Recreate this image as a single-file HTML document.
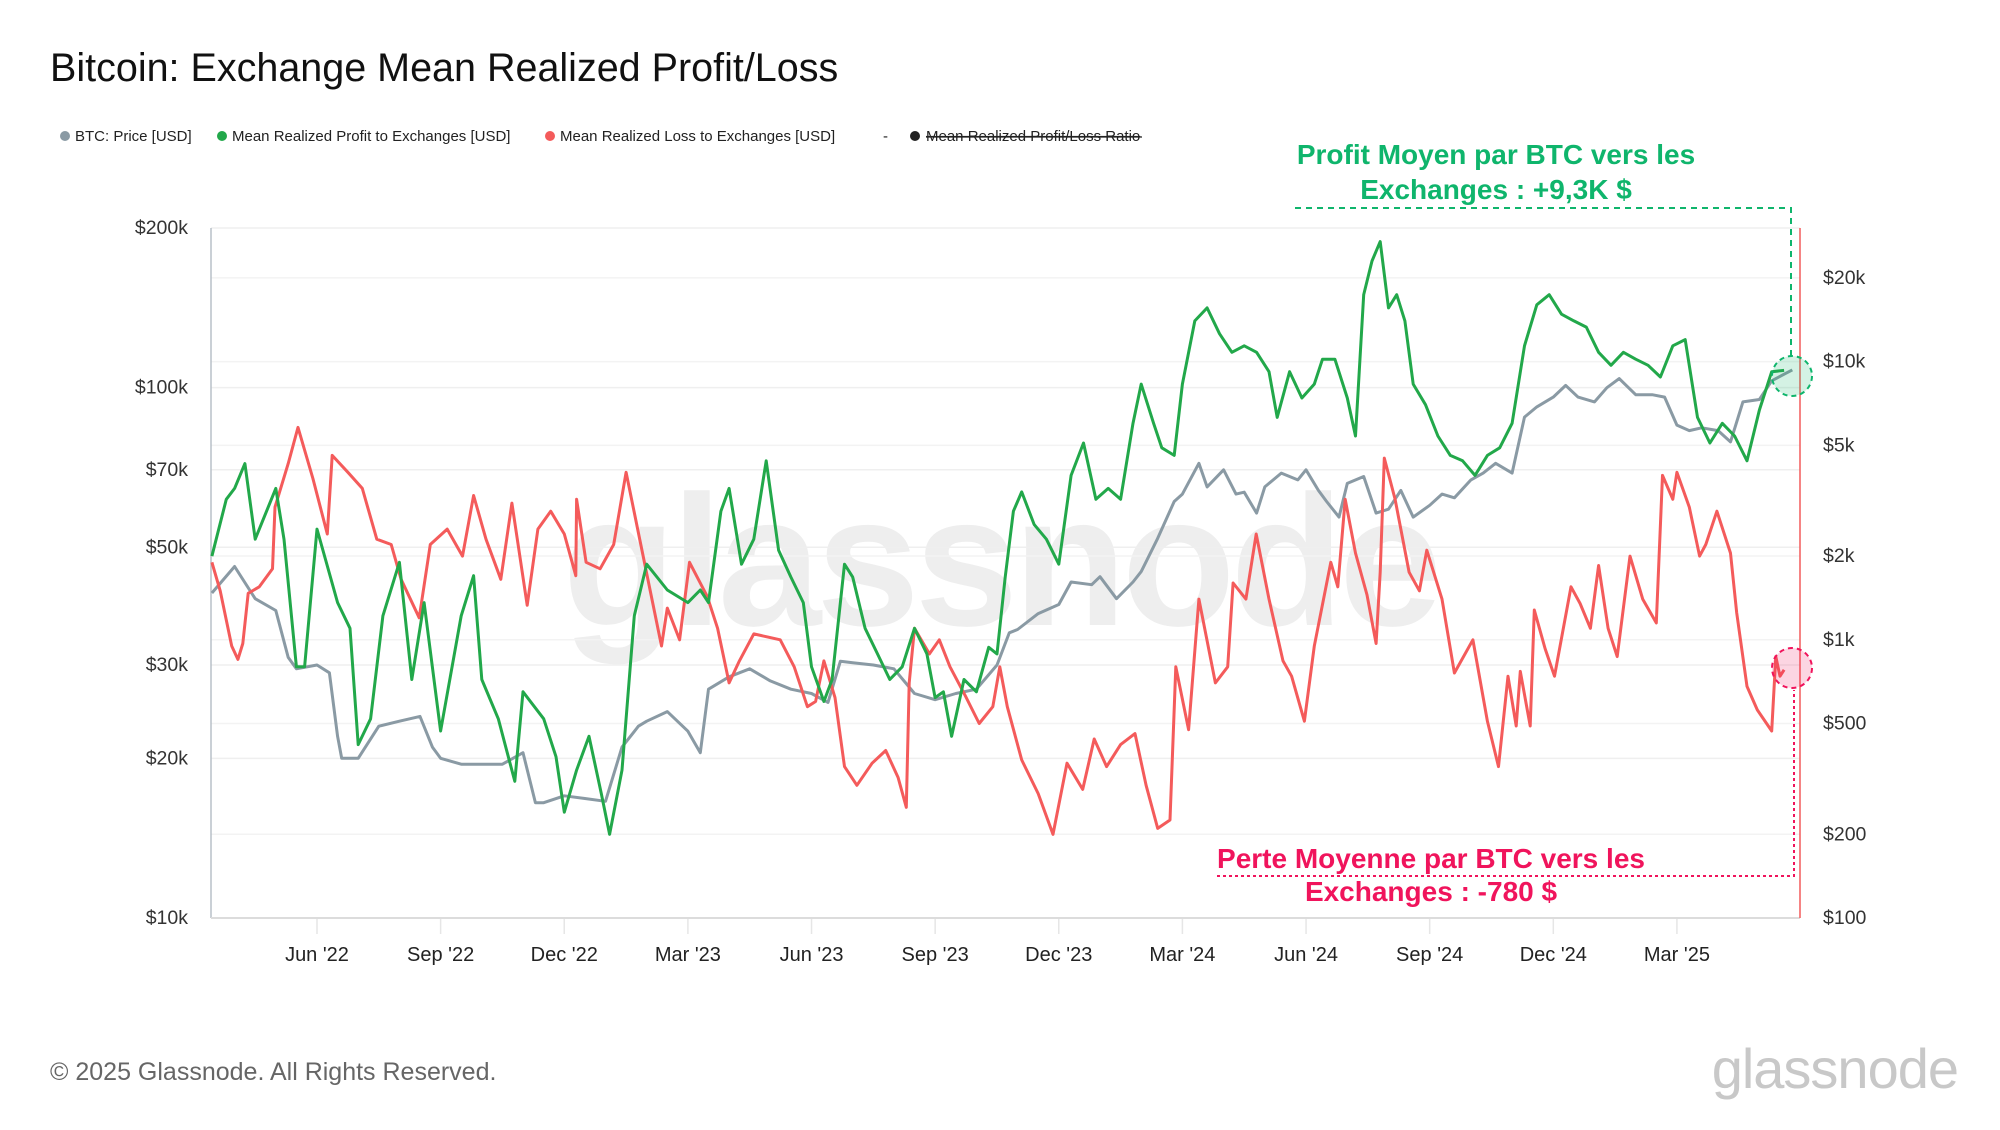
<!DOCTYPE html>
<html><head><meta charset="utf-8">
<style>
html,body{margin:0;padding:0;background:#fff;}
body{width:2000px;height:1125px;overflow:hidden;font-family:"Liberation Sans",sans-serif;}
svg text{font-family:"Liberation Sans",sans-serif;}
</style></head>
<body>
<svg id="chart" width="2000" height="1125" viewBox="0 0 2000 1125" xmlns="http://www.w3.org/2000/svg">
  <text x="50" y="81" font-size="39.5" fill="#111">Bitcoin: Exchange Mean Realized Profit/Loss</text>
  <g font-size="15" fill="#222">
    <g><circle cx="65" cy="136" r="5" fill="#8a9aa4"/><text x="75" y="141">BTC: Price [USD]</text></g>
    <g><circle cx="222" cy="136" r="5" fill="#22a84a"/><text x="232" y="141">Mean Realized Profit to Exchanges [USD]</text></g>
    <g><circle cx="550" cy="136" r="5" fill="#f45b5b"/><text x="560" y="141">Mean Realized Loss to Exchanges [USD]</text></g>
    <g><text x="883" y="141">-</text><circle cx="915" cy="136" r="5" fill="#222"/><text x="926" y="141" text-decoration="line-through">Mean Realized Profit/Loss Ratio</text><line x1="926" y1="137" x2="1142" y2="137" stroke="#222" stroke-width="1.2"/></g>
  </g>
  <text x="1000" y="625" font-size="186" fill="#eeeeee" text-anchor="middle" font-weight="bold" letter-spacing="-5">glassnode</text>
  <g id="grid"></g>
  <g id="axes"></g>
  <g id="series"></g>
  <g>
    <text x="1496" y="164" font-size="28" font-weight="bold" fill="#0fb56c" text-anchor="middle">Profit Moyen par BTC vers les</text>
    <text x="1496" y="199" font-size="28" font-weight="bold" fill="#0fb56c" text-anchor="middle">Exchanges : +9,3K $</text>
    <polyline points="1295,208 1791,208 1791,358" fill="none" stroke="#0fb56c" stroke-width="2" stroke-dasharray="6,5"/>
    <circle cx="1792" cy="376" r="20" fill="rgba(15,181,108,0.18)" stroke="#0fb56c" stroke-width="2" stroke-dasharray="5,4"/>
  </g>
  <g>
    <text x="1431" y="868" font-size="28" font-weight="bold" fill="#f0145c" text-anchor="middle">Perte Moyenne par BTC vers les</text>
    <text x="1431" y="901" font-size="28" font-weight="bold" fill="#f0145c" text-anchor="middle">Exchanges : -780 $</text>
    <polyline points="1217,876 1794,876 1794,690" fill="none" stroke="#f0145c" stroke-width="2" stroke-dasharray="3,3"/>
    <circle cx="1792" cy="668" r="20" fill="rgba(240,20,92,0.18)" stroke="#f0145c" stroke-width="2" stroke-dasharray="5,4"/>
  </g>
  <text x="50" y="1080" font-size="25" fill="#666">© 2025 Glassnode. All Rights Reserved.</text>
  <text x="1958" y="1088" font-size="56" fill="#c8c8c8" text-anchor="end" letter-spacing="-1">glassnode</text>
</svg>
<script>
const priceDates=[0.45,1.0,1.5,2.0,2.3,2.5,3.0,3.3,3.5,3.6,4.0,4.5,5.0,5.5,5.8,6.0,6.5,7.0,7.5,8.0,8.3,8.5,9.0,9.5,10.0,10.4,10.8,11.0,11.5,12.0,12.3,12.5,13.0,13.5,14.0,14.5,15.0,15.4,15.7,16.0,16.5,17.0,17.5,18.0,18.5,19.0,19.5,19.8,20.0,20.5,21.0,21.3,21.8,22.0,22.4,22.8,23.0,23.4,23.8,24.0,24.4,24.6,25.0,25.3,25.5,25.8,26.0,26.4,26.8,27.0,27.3,27.5,27.8,28.0,28.4,28.7,29.0,29.3,29.6,30.0,30.3,30.6,31.0,31.3,31.6,32.0,32.3,32.6,33.0,33.3,33.6,34.0,34.3,34.6,35.0,35.4,35.7,36.0,36.3,36.6,37.0,37.3,37.6,38.0,38.3,38.6,38.8];
const priceValues=[41000,46000,40000,38000,31000,29500,30000,29000,22000,20000,20000,23000,23500,24000,21000,20000,19500,19500,19500,20500,16500,16500,17000,16800,16600,21000,23000,23500,24500,22500,20500,27000,28500,29500,28000,27000,26500,25500,30500,30300,30000,29500,26500,25800,26500,27000,30000,34500,35000,37500,39000,43000,42500,44000,40000,43000,45000,52000,61000,63000,72000,65000,70000,63000,63500,58000,65000,69000,67000,70000,64000,61000,57000,66000,68000,58000,59000,64000,57000,60000,63000,62000,67000,69000,72000,69000,88000,92000,96000,101000,96000,94000,100000,104000,97000,97000,96000,85000,83000,84000,83000,79000,94000,95000,103000,106000,108000];
const profitDates=[0.45,0.8,1.0,1.25,1.5,2.0,2.2,2.5,2.7,3.0,3.5,3.8,4.0,4.3,4.6,5.0,5.3,5.6,6.0,6.5,6.8,7.0,7.4,7.8,8.0,8.5,8.8,9.0,9.3,9.6,9.9,10.1,10.4,10.7,11.0,11.5,12.0,12.3,12.5,12.8,13.0,13.3,13.6,13.9,14.2,14.5,14.8,15.0,15.3,15.5,15.8,16.0,16.3,16.6,16.9,17.2,17.5,17.8,18.0,18.2,18.4,18.7,19.0,19.3,19.5,19.7,19.9,20.1,20.4,20.7,21.0,21.3,21.6,21.9,22.2,22.5,22.8,23.0,23.3,23.5,23.8,24.0,24.3,24.6,24.9,25.2,25.5,25.8,26.1,26.3,26.6,26.9,27.2,27.4,27.7,28.0,28.2,28.4,28.6,28.8,29.0,29.2,29.4,29.6,29.9,30.2,30.5,30.8,31.1,31.4,31.7,32.0,32.3,32.6,32.9,33.2,33.5,33.8,34.1,34.4,34.7,35.0,35.3,35.6,35.9,36.2,36.5,36.8,37.1,37.4,37.7,38.0,38.3,38.6];
const profitValues=[2000,3200,3500,4300,2300,3500,2300,800,800,2500,1360,1100,420,520,1220,1900,720,1360,470,1220,1700,720,520,310,650,520,380,240,340,450,280,200,340,1220,1870,1510,1360,1510,1360,2900,3500,1870,2300,4400,2100,1680,1360,800,600,720,1870,1680,1100,890,720,800,1100,890,620,650,450,720,650,940,890,1680,2900,3400,2600,2300,1870,3900,5100,3200,3500,3200,6000,8300,6000,4900,4600,8300,14000,15600,12600,10800,11400,10800,9200,6300,9200,7400,8300,10200,10200,7400,5400,17400,23000,27000,15600,17400,14000,8300,7000,5400,4600,4400,3900,4600,4900,6000,11400,16000,17400,14800,14000,13300,10800,9700,10800,10200,9700,8800,11400,12000,6300,5100,6000,5400,4400,6700,9200,9300];
const lossDates=[0.45,0.65,0.93,1.08,1.2,1.33,1.6,1.92,1.98,2.3,2.54,2.9,3.25,3.37,3.75,4.1,4.45,4.8,5.04,5.48,5.75,6.16,6.53,6.8,7.1,7.46,7.73,8.1,8.36,8.67,9.0,9.28,9.3,9.53,9.87,10.2,10.5,10.83,11.36,11.5,11.8,12.04,12.47,12.72,13.0,13.25,13.6,14.24,14.58,14.9,15.1,15.3,15.57,15.8,16.1,16.47,16.8,17.1,17.3,17.37,17.5,17.86,18.1,18.36,18.73,19.07,19.4,19.57,19.75,20.1,20.5,20.86,21.2,21.58,21.86,22.16,22.5,22.85,23.12,23.4,23.7,23.84,24.15,24.4,24.8,25.1,25.23,25.54,25.79,26.1,26.44,26.65,26.96,27.2,27.6,27.77,27.95,28.2,28.48,28.7,28.8,28.9,29.16,29.5,29.75,29.93,30.3,30.6,31.05,31.4,31.67,31.9,32.1,32.2,32.44,32.54,32.8,33.03,33.43,33.65,33.9,34.1,34.33,34.55,34.86,35.17,35.5,35.65,35.9,36.0,36.3,36.55,36.7,36.97,37.3,37.45,37.7,37.95,38.3,38.4,38.5,38.6];
const lossValues=[1900,1500,950,850,970,1470,1550,1800,3000,4300,5800,3800,2400,4600,4000,3500,2300,2200,1650,1200,2200,2500,2000,3300,2300,1650,3100,1330,2500,2900,2400,1700,3200,1900,1800,2200,4000,2300,950,1300,1000,1900,1430,1100,700,840,1050,1000,800,575,600,840,620,350,300,360,400,320,250,700,1100,890,1000,800,630,500,575,800,575,370,280,200,360,290,440,350,420,460,300,210,225,800,475,1400,700,800,1600,1400,2400,1400,840,740,510,950,1900,1550,3200,2050,1450,970,1750,4500,3200,1750,1500,2100,1400,760,1000,510,350,740,490,770,490,1280,930,740,1550,1350,1100,1850,1100,870,2000,1400,1150,3900,3200,4000,3000,2000,2200,2900,2050,1250,680,560,470,870,740,780];
const leftTicks=[10000,20000,30000,50000,70000,100000,200000];
const leftTickLabels=["$10k","$20k","$30k","$50k","$70k","$100k","$200k"];
const rightTicks=[100,200,500,1000,2000,5000,10000,20000];
const rightTickLabels=["$100","$200","$500","$1k","$2k","$5k","$10k","$20k"];
const monthTicks=[3,6,9,12,15,18,21,24,27,30,33,36];
const monthLabels=["Jun '22","Sep '22","Dec '22","Mar '23","Jun '23","Sep '23","Dec '23","Mar '24","Jun '24","Sep '24","Dec '24","Mar '25"];

const NS="http://www.w3.org/2000/svg";
const PL=211,PR=1800,PT=228,PB=918;
function xS(t){return 317+(t-3)*41.21;}
function yL(v){return PT+(Math.log10(200000)-Math.log10(v))/Math.log10(20)*(PB-PT);}
function yR(v){return PB-Math.log10(v/100)*278.2;}
function mk(tag,attrs,parent){const e=document.createElementNS(NS,tag);for(const k in attrs)e.setAttribute(k,attrs[k]);parent.appendChild(e);return e;}
const grid=document.getElementById('grid'),axes=document.getElementById('axes'),ser=document.getElementById('series');
leftTicks.forEach((v,i)=>{
  const y=yL(v);
  const g=mk('line',{x1:PL,x2:PR,y1:y,y2:y,stroke:'#efefef','stroke-width':1.5},grid);
  
  
  const t=mk('text',{x:188,y:y+6,'font-size':19.5,fill:'#333','text-anchor':'end'},axes);
  t.textContent=leftTickLabels[i];
  
  
});
rightTicks.forEach((v,i)=>{
  const y=yR(v);
  const g=mk('line',{x1:PL,x2:PR,y1:y,y2:y,stroke:'#f3f3f3','stroke-width':1.5},grid);
  
  
  const t=mk('text',{x:1823,y:y+6,'font-size':19.5,fill:'#333'},axes);
  t.textContent=rightTickLabels[i];
  
  
});
monthTicks.forEach((m,i)=>{
  const x=xS(m);
  const l=mk('line',{x1:x,x2:x,y1:PB,y2:PB+16,stroke:'#e6e6e6','stroke-width':1.5},axes);
  
  
  const t=mk('text',{x:x,y:961,'font-size':20,fill:'#222','text-anchor':'middle'},axes);
  t.textContent=monthLabels[i];
  
  
});
const la=mk('line',{x1:PL,x2:PL,y1:PT,y2:PB,stroke:'#b8c0c8','stroke-width':1.5},axes);


const ba=mk('line',{x1:PL,x2:PR,y1:PB,y2:PB,stroke:'#dcdcdc','stroke-width':2},axes);


const ra=mk('line',{x1:PR,x2:PR,y1:PT,y2:PB,stroke:'#f45b5b','stroke-width':1.5},axes);


function path(dates,vals,yf){return dates.map((d,i)=>(i?'L':'M')+xS(d).toFixed(1)+','+yf(vals[i]).toFixed(1)).join(' ');}
const pp=mk('path',{d:path(priceDates,priceValues,yL),fill:'none',stroke:'#8a9aa4','stroke-width':3,'stroke-linejoin':'round'},ser);


const lp=mk('path',{d:path(lossDates,lossValues,yR),fill:'none',stroke:'#f45b5b','stroke-width':3,'stroke-linejoin':'round'},ser);


const gp=mk('path',{d:path(profitDates,profitValues,yR),fill:'none',stroke:'#22a84a','stroke-width':3,'stroke-linejoin':'round'},ser);


</script>
</body></html>
